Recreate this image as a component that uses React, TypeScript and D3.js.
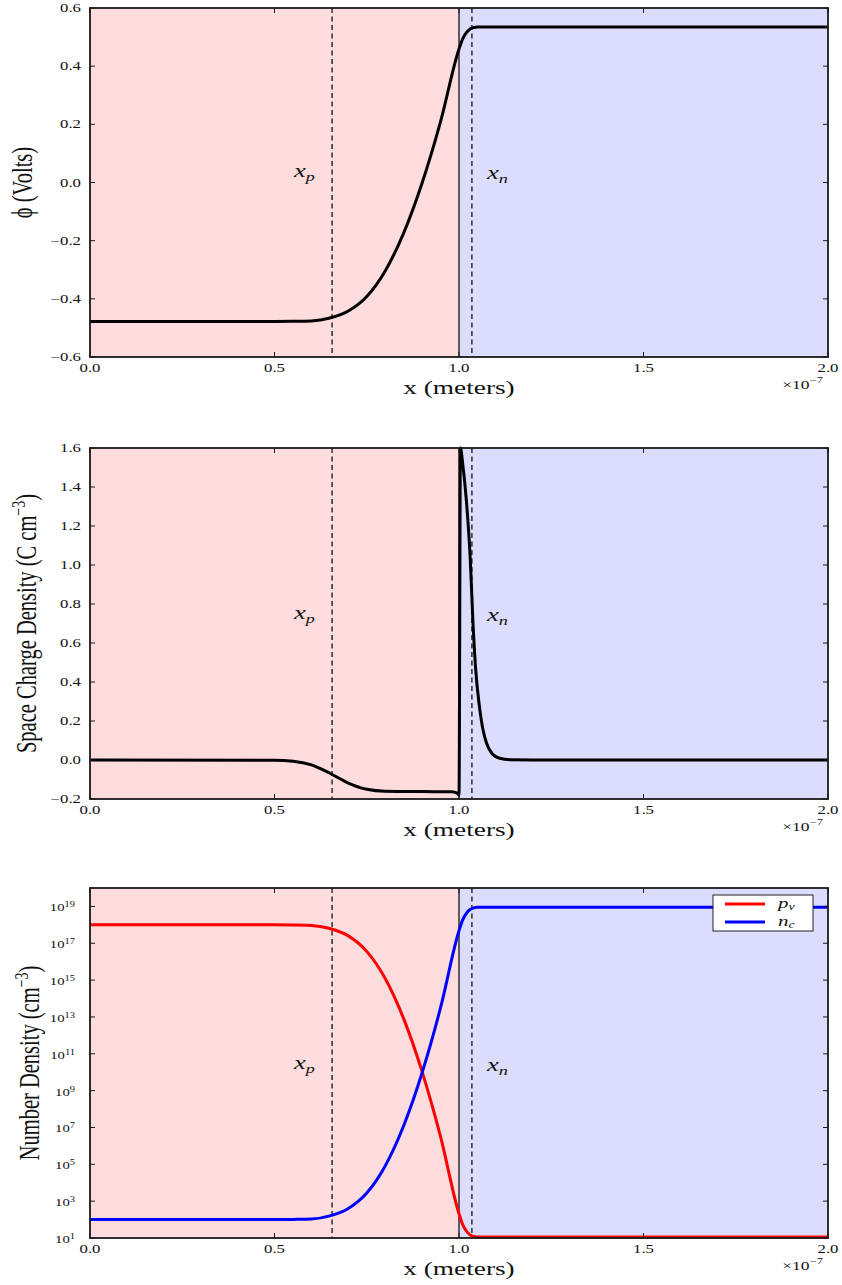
import React from "react";
import * as d3 from "d3";

// page + layout
const W = 842;
const H = 1285;
const left = 90;
const right = 828;
const K = 1.4; // horizontal stretch of the original figure's text
const SERIF = "'Liberation Serif', 'DejaVu Serif', serif";

const panels = [
  { top: 8, bottom: 357, labelX: 32 },
  { top: 448, bottom: 799, labelX: 36 },
  { top: 888, bottom: 1238, labelX: 39 },
];

// x axis (units of 1e-7 m)
const xTicks = [0, 0.5, 1.0, 1.5, 2.0];
const xTickLabels = ["0.0", "0.5", "1.0", "1.5", "2.0"];
const junction = 1.0;
const xpEdge = 0.656;
const xnEdge = 1.035;

// potential
const phiX = [0, 0.5, 0.55, 0.6, 0.65, 0.7, 0.75, 0.8, 0.85, 0.9, 0.95, 1.0, 1.01, 1.02, 1.03, 1.04, 1.05, 1.07, 2.0];
const phiV = [-0.478, -0.478, -0.4775, -0.476, -0.466, -0.442, -0.392, -0.304, -0.174, -0.002, 0.209, 0.459, 0.494, 0.515, 0.528, 0.533, 0.535, 0.535, 0.535];
const phiTicks = [-0.6, -0.4, -0.2, 0, 0.2, 0.4, 0.6];
const phiTickLabels = ["\u22120.6", "\u22120.4", "\u22120.2", "0.0", "0.2", "0.4", "0.6"];

// space charge density
const rhoX = [0, 0.5, 0.55, 0.6, 0.65, 0.7, 0.75, 0.8, 0.9, 0.98, 0.995, 1.0, 1.004, 1.01, 1.02, 1.03, 1.038, 1.045, 1.055, 1.065, 1.075, 1.09, 1.11, 1.14, 1.2, 2.0];
const rhoV = [0, -0.001, -0.006, -0.025, -0.068, -0.118, -0.15, -0.16, -0.162, -0.163, -0.17, -0.18, 1.6, 1.52, 1.33, 1.05, 0.7, 0.47, 0.28, 0.155, 0.085, 0.032, 0.009, 0.001, 0, 0];
const rhoTicks = [-0.2, 0, 0.2, 0.4, 0.6, 0.8, 1.0, 1.2, 1.4, 1.6];
const rhoTickLabels = ["\u22120.2", "0.0", "0.2", "0.4", "0.6", "0.8", "1.0", "1.2", "1.4", "1.6"];

// number densities (log10 of cm^-3)
const densX = phiX;
const pvExp = [18, 18, 17.99, 17.97, 17.8, 17.4, 16.56, 15.09, 12.91, 10.03, 6.5, 2.32, 1.73, 1.38, 1.17, 1.08, 1.05, 1.05, 1.05];
const ncExp = [2, 2, 2.01, 2.03, 2.2, 2.6, 3.44, 4.91, 7.09, 9.97, 13.5, 17.68, 18.27, 18.62, 18.83, 18.92, 18.95, 18.95, 18.95];
const densTickExps = [1, 3, 5, 7, 9, 11, 13, 15, 17, 19];

const x = d3.scaleLinear().domain([0, 2]).range([left, right]);

const SText = ({ tx, ty, size, anchor = "start", rot = false, italic = false, children }: any) => (
  <text
    transform={`translate(${tx},${ty}) scale(${K},1)${rot ? " rotate(-90)" : ""}`}
    fontSize={size}
    textAnchor={anchor}
    fontFamily={SERIF}
    fontStyle={italic ? "italic" : "normal"}
    fill="#111"
  >
    {children}
  </text>
);

const Panel = ({ p, y, yTicks, yLabels, logTicks, children, label, xpY, xnY }: any) => {
  const { top, bottom, labelX } = p;
  return (
    <g>
      <rect x={left} y={top} width={x(junction) - left} height={bottom - top} fill="#fcdcdc" />
      <rect x={x(junction)} y={top} width={right - x(junction)} height={bottom - top} fill="#dcdcfc" />
      <line x1={x(junction)} x2={x(junction)} y1={top} y2={bottom} stroke="#000" strokeWidth={1.2} />
      {[xpEdge, xnEdge].map((v) => (
        <line key={v} x1={x(v)} x2={x(v)} y1={top} y2={bottom} stroke="#111" strokeWidth={1.3} strokeDasharray="5,3.5" />
      ))}
      {children}
      <rect x={left} y={top} width={right - left} height={bottom - top} fill="none" stroke="#1a1a1a" strokeWidth={1.8} />
      {xTicks.map((t, i) => (
        <g key={t}>
          <line x1={x(t)} x2={x(t)} y1={bottom} y2={bottom - 5} stroke="#1a1a1a" />
          <line x1={x(t)} x2={x(t)} y1={top} y2={top + 5} stroke="#1a1a1a" />
          <SText tx={x(t)} ty={bottom + 15} size={12} anchor="middle">{xTickLabels[i]}</SText>
        </g>
      ))}
      {yTicks.map((t: number, i: number) => (
        <g key={i}>
          <line x1={left} x2={left + 5} y1={y(t)} y2={y(t)} stroke="#1a1a1a" />
          <line x1={right} x2={right - 5} y1={y(t)} y2={y(t)} stroke="#1a1a1a" />
          {logTicks ? (
            <SText tx={75} ty={y(t) + 5} size={10.5} anchor="end">
              10<tspan fontSize={7.5} dy={-4}>{yLabels[i]}</tspan>
            </SText>
          ) : (
            <SText tx={81} ty={y(t) + 4} size={12} anchor="end">{yLabels[i]}</SText>
          )}
        </g>
      ))}
      <SText tx={x(junction)} ty={bottom + 37} size={19.5} anchor="middle">x (meters)</SText>
      <SText tx={823} ty={bottom + 32} size={12.5} anchor="end">
        {"\u00d710"}<tspan fontSize={9} dy={-6}>{"\u22127"}</tspan>
      </SText>
      <SText tx={labelX} ty={(top + bottom) / 2} size={20.5} anchor="middle" rot>{label}</SText>
      <SText tx={294} ty={xpY} size={19} italic>
        x<tspan fontSize={13} dy={4}>p</tspan>
      </SText>
      <SText tx={487} ty={xnY} size={19} italic>
        x<tspan fontSize={13} dy={4}>n</tspan>
      </SText>
    </g>
  );
};

export default function App() {
  const p1 = panels[0], p2 = panels[1], p3 = panels[2];
  const yPhi = d3.scaleLinear().domain([-0.6, 0.6]).range([p1.bottom, p1.top]);
  const yRho = d3.scaleLinear().domain([-0.2, 1.6]).range([p2.bottom, p2.top]);
  const yDen = d3.scaleLog().domain([1e1, 1e20]).range([p3.bottom, p3.top]);

  const linePhi = d3.line<number>().x((_, i) => x(phiX[i])).y((d) => yPhi(d)).curve(d3.curveMonotoneX);
  const lineRho = d3.line<number>().x((_, i) => x(rhoX[i])).y((d) => yRho(d)).curve(d3.curveMonotoneX);
  const lineDen = d3.line<number>().x((_, i) => x(densX[i])).y((d) => yDen(Math.pow(10, d))).curve(d3.curveMonotoneX);

  return (
    <svg width={W} height={H} style={{ position: "absolute", left: 0, top: 0, background: "#fff" }}>
      <Panel
        p={p1}
        y={yPhi}
        yTicks={phiTicks}
        yLabels={phiTickLabels}
        label={<>{"\u03d5 (Volts)"}</>}
        xpY={177}
        xnY={179}
      >
        <path d={linePhi(phiV) || ""} fill="none" stroke="#000" strokeWidth={3} />
      </Panel>
      <Panel
        p={p2}
        y={yRho}
        yTicks={rhoTicks}
        yLabels={rhoTickLabels}
        label={<>Space Charge Density (C cm<tspan fontSize={14} dy={-8}>{"\u22123"}</tspan><tspan dy={8}>)</tspan></>}
        xpY={619}
        xnY={621}
      >
        <path d={lineRho(rhoV) || ""} fill="none" stroke="#000" strokeWidth={3} />
      </Panel>
      <Panel
        p={p3}
        y={yDen}
        yTicks={densTickExps.map((e) => Math.pow(10, e))}
        yLabels={densTickExps.map(String)}
        logTicks
        label={<>Number Density (cm<tspan fontSize={14} dy={-8}>{"\u22123"}</tspan><tspan dy={8}>)</tspan></>}
        xpY={1069}
        xnY={1071}
      >
        <path d={lineDen(pvExp) || ""} fill="none" stroke="#f00" strokeWidth={3} />
        <path d={lineDen(ncExp) || ""} fill="none" stroke="#00f" strokeWidth={3} />
        <g>
          <rect x={713} y={895} width={100} height={36} fill="#fff" stroke="#222" strokeWidth={1} />
          <line x1={725} x2={765} y1={904} y2={904} stroke="#f00" strokeWidth={3} />
          <line x1={725} x2={765} y1={922} y2={922} stroke="#00f" strokeWidth={3} />
          <SText tx={778} ty={908} size={15} italic>
            p<tspan fontSize={10} dy={2}>v</tspan>
          </SText>
          <SText tx={778} ty={926} size={15} italic>
            n<tspan fontSize={10} dy={2}>c</tspan>
          </SText>
        </g>
      </Panel>
    </svg>
  );
}
